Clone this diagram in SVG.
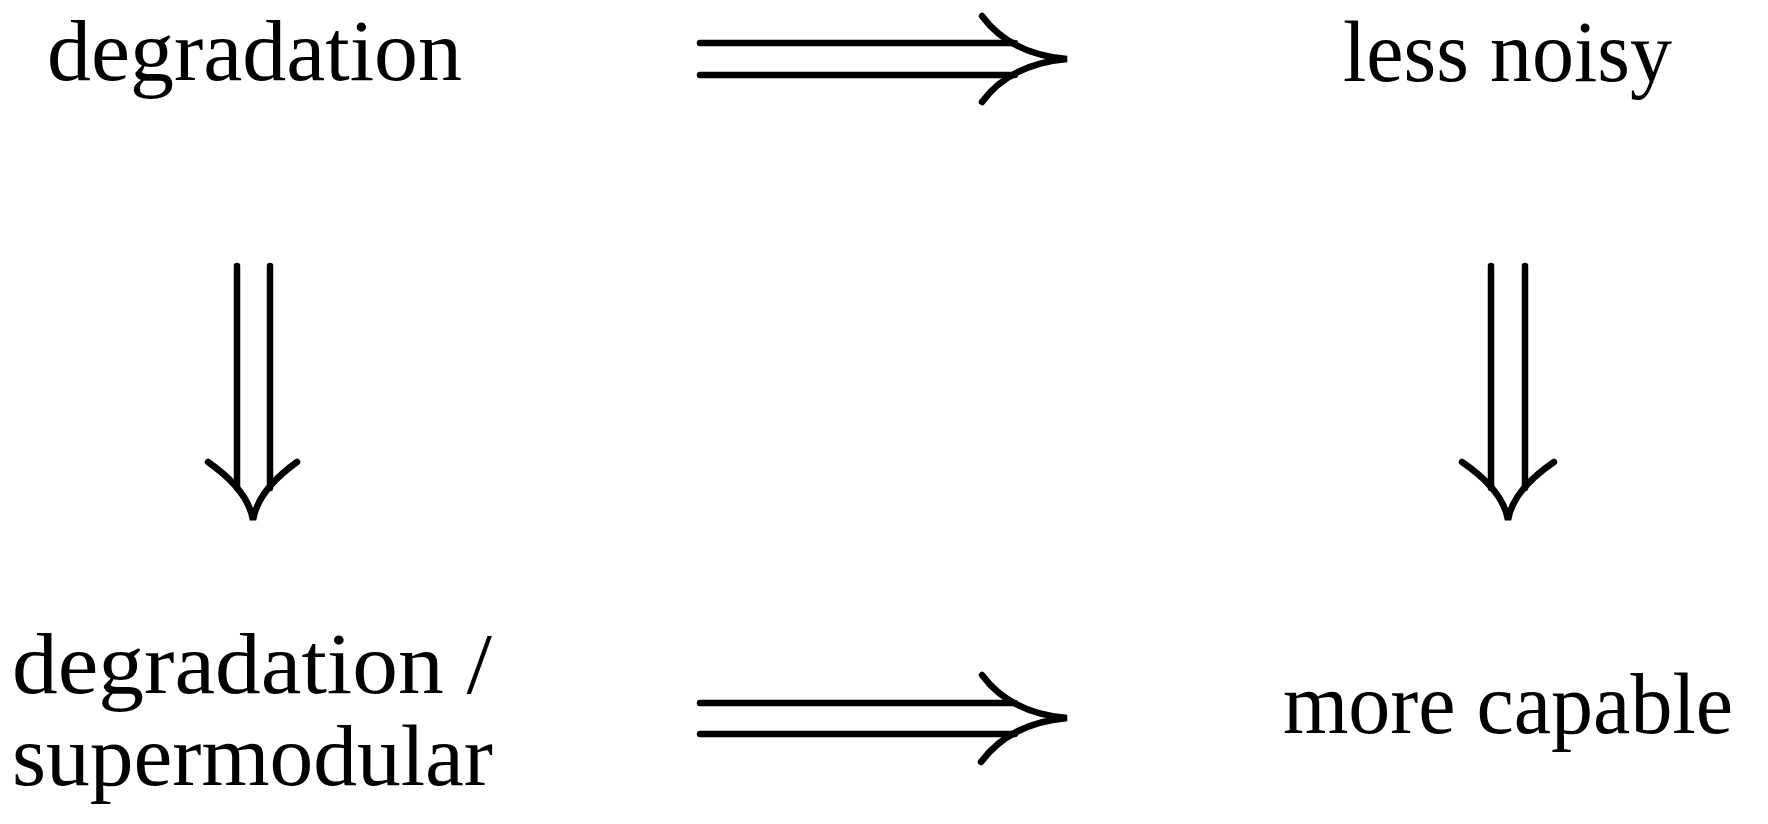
<svg xmlns="http://www.w3.org/2000/svg" width="1768" height="824" viewBox="0 0 1768 824">
<style>
.t{font-family:"Liberation Serif","Times New Roman",serif;font-size:87px;fill:#000}
.a{fill:none;stroke:#000;stroke-width:6.5;stroke-linecap:round}
</style>
<rect width="1768" height="824" fill="#fff"/>
<g id="node-degradation"><text class="t" x="47" y="80" textLength="415" lengthAdjust="spacingAndGlyphs">degradation</text></g>
<g id="node-less-noisy"><text class="t" x="1343" y="81" textLength="329" lengthAdjust="spacingAndGlyphs">less noisy</text></g>
<g id="node-degradation-supermodular">
<text class="t" x="12" y="693" textLength="480" lengthAdjust="spacingAndGlyphs">degradation /</text>
<text class="t" x="12" y="785" textLength="481" lengthAdjust="spacingAndGlyphs">supermodular</text>
</g>
<g id="node-more-capable"><text class="t" x="1283" y="733" textLength="450" lengthAdjust="spacingAndGlyphs">more capable</text></g>
<g id="connectors">
<g id="arrow-top">
<path class="a" d="M700,43 H1015 M700,75 H1015"/>
<path class="a" d="M982,16 Q1010,54 1067,59 Q1010,64 982,102"/>
</g>
<g id="arrow-bottom">
<path class="a" d="M700,703 H1015 M700,734 H1015"/>
<path class="a" d="M982,675 Q1010,713 1067,718 Q1010,723 981,762"/>
</g>
<g id="arrow-left">
<path class="a" d="M237,266 V488 M270,266 V488"/>
<path class="a" d="M208,462 Q248,490 253,520 Q258,490 297,462"/>
</g>
<g id="arrow-right">
<path class="a" d="M1491,266 V488 M1525,266 V488"/>
<path class="a" d="M1462,462 Q1503,490 1508,520 Q1513,490 1554,462"/>
</g>
</g>
</svg>
